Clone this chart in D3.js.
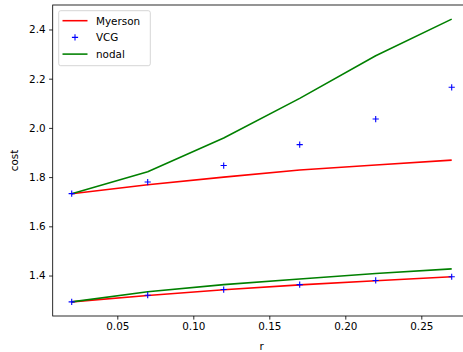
<!DOCTYPE html>
<html>
<head>
<meta charset="utf-8">
<script src="https://cdn.jsdelivr.net/npm/d3@7"></script>
<style>
  body { margin: 0; background: #fff; }
  svg { display: block; font-family: "DejaVu Sans", sans-serif; }
</style>
</head>
<body>
<svg width="463" height="352"></svg>
<script>
// r values
const rValues = [0.02, 0.07, 0.12, 0.17, 0.22, 0.27];

// upper group
const myersonHigh = [1.732, 1.769, 1.800, 1.829, 1.849, 1.869];
const vcgHigh = [1.733, 1.780, 1.847, 1.932, 2.036, 2.165];
const nodalHigh = [1.732, 1.822, 1.959, 2.120, 2.293, 2.442];

// lower group
const myersonLow = [1.293, 1.319, 1.342, 1.362, 1.379, 1.395];
const vcgLow = [1.293, 1.320, 1.343, 1.363, 1.380, 1.395];
const nodalLow = [1.293, 1.334, 1.363, 1.386, 1.408, 1.427];

const xTicks = [0.05, 0.10, 0.15, 0.20, 0.25];
const yTicks = [1.4, 1.6, 1.8, 2.0, 2.2, 2.4];

const colors = { myerson: "#ff0000", vcg: "#0000ff", nodal: "#008000" };

const plot = { left: 52.7, right: 470.7, top: 5, bottom: 316 };

// matplotlib style 5% margins
const allY = [].concat(myersonHigh, vcgHigh, nodalHigh, myersonLow, vcgLow, nodalLow);
const yMin = d3.min(allY), yMax = d3.max(allY);
const yPad = (yMax - yMin) * 0.05;
const xMin = d3.min(rValues), xMax = d3.max(rValues);
const xPad = (xMax - xMin) * 0.05;

const x = d3.scaleLinear().domain([xMin - xPad, xMax + xPad]).range([plot.left, plot.right]);
const y = d3.scaleLinear().domain([yMin - yPad, yMax + yPad]).range([plot.bottom, plot.top]);

const svg = d3.select("svg");
const fontSize = 10.4;

// lines
const line = d3.line().x((d) => x(d[0])).y((d) => y(d[1]));
const drawLine = (vals, color) =>
    svg.append("path")
        .datum(rValues.map((r, i) => [r, vals[i]]))
        .attr("fill", "none")
        .attr("stroke", color)
        .attr("stroke-width", 1.56)
        .attr("stroke-linejoin", "round")
        .attr("d", line);

drawLine(myersonHigh, colors.myerson);
drawLine(myersonLow, colors.myerson);
drawLine(nodalHigh, colors.nodal);
drawLine(nodalLow, colors.nodal);

// VCG markers
const plus = (g, cx, cy) => {
    const s = 3.1;
    g.append("path")
        .attr("d", `M${cx - s},${cy}H${cx + s}M${cx},${cy - s}V${cy + s}`)
        .attr("stroke", colors.vcg)
        .attr("stroke-width", 1.1)
        .attr("fill", "none");
};
const markers = svg.append("g");
rValues.forEach((r, i) => {
    plus(markers, x(r), y(vcgHigh[i]));
    plus(markers, x(r), y(vcgLow[i]));
});

// axes
const xAxis = svg.append("g")
    .attr("transform", `translate(0,${plot.bottom})`)
    .call(d3.axisBottom(x).tickValues(xTicks).tickFormat(d3.format(".2f")).tickSize(3.6).tickPadding(3.5));
const yAxis = svg.append("g")
    .attr("transform", `translate(${plot.left},0)`)
    .call(d3.axisLeft(y).tickValues(yTicks).tickFormat(d3.format(".1f")).tickSize(3.6).tickPadding(3.5));

[xAxis, yAxis].forEach((a) => {
    a.select(".domain").remove();
    a.selectAll(".tick line").attr("stroke", "#000").attr("stroke-width", 0.83);
    a.selectAll(".tick text")
        .attr("fill", "#000")
        .style("font-size", fontSize + "px")
        .style("font-family", "DejaVu Sans");
});

// spines
svg.append("rect")
    .attr("x", plot.left)
    .attr("y", plot.top)
    .attr("width", plot.right - plot.left)
    .attr("height", plot.bottom - plot.top)
    .attr("fill", "none")
    .attr("stroke", "#000")
    .attr("stroke-width", 0.83);

// axis labels
svg.append("text")
    .attr("x", (plot.left + plot.right) / 2)
    .attr("y", 350)
    .attr("text-anchor", "middle")
    .style("font-size", fontSize + "px")
    .text("r");
svg.append("text")
    .attr("transform", `translate(18,${(plot.top + plot.bottom) / 2}) rotate(-90)`)
    .attr("text-anchor", "middle")
    .style("font-size", fontSize + "px")
    .text("cost");

// legend
const legend = svg.append("g");
legend.append("rect")
    .attr("x", 58.7)
    .attr("y", 10.7)
    .attr("width", 91.6)
    .attr("height", 55)
    .attr("rx", 2)
    .attr("fill", "#fff")
    .attr("fill-opacity", 0.8)
    .attr("stroke", "#ccc")
    .attr("stroke-width", 0.83);

const legendItems = [
    { name: "Myerson", type: "line", color: colors.myerson },
    { name: "VCG", type: "marker", color: colors.vcg },
    { name: "nodal", type: "line", color: colors.nodal },
];
legendItems.forEach((item, i) => {
    const cy = 20.7 + i * 16.7;
    if (item.type === "line") {
        legend.append("line")
            .attr("x1", 62.5).attr("x2", 87.5)
            .attr("y1", cy).attr("y2", cy)
            .attr("stroke", item.color)
            .attr("stroke-width", 1.56);
    } else {
        plus(legend, 75, cy);
    }
    legend.append("text")
        .attr("x", 96)
        .attr("y", cy + 3.8)
        .style("font-size", fontSize + "px")
        .text(item.name);
});
</script>
</body>
</html>
